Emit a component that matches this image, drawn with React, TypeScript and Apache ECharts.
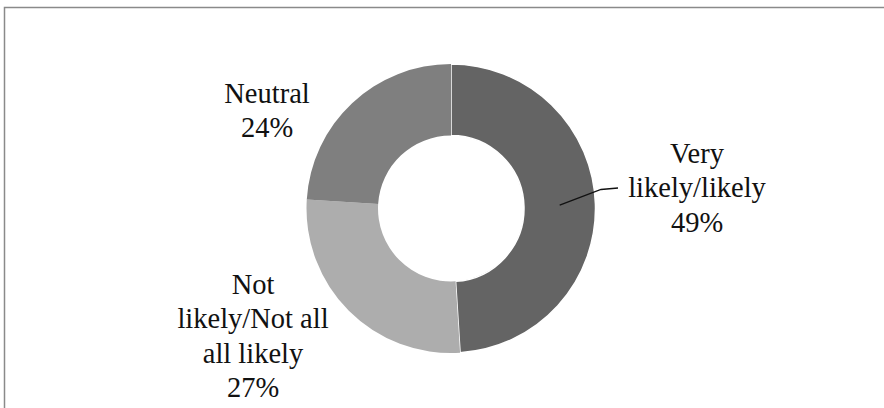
import React, { useEffect, useRef } from "react";
import * as echarts from "echarts";

const categories = ["Very\nlikely/likely", "Not\nlikely/Not all\nall likely", "Neutral"];
const values = [49, 27, 24];
const colors = ["#646464", "#adadad", "#7f7f7f"];
const labelCenters = [
  [697, 187.5],
  [253, 336],
  [267, 110.5],
];
const FONT = "Liberation Serif";

export default function App() {
  const ref = useRef<HTMLDivElement>(null);
  useEffect(() => {
    if (!ref.current) return;
    document.body.style.margin = "0";
    const chart = echarts.init(ref.current, null, { renderer: "svg" });
    const cx = 451;
    const cy = 208.5;
    const r0 = 73;
    const r1 = 144.5;
    const total = values.reduce((a, b) => a + b, 0);
    const midDeg = 90 - (values[0] / 2 / total) * 360;
    const rm = (r0 + r1) / 2;
    const sx = cx + rm * Math.cos((midDeg * Math.PI) / 180);
    const sy = cy - rm * Math.sin((midDeg * Math.PI) / 180);
    const ex = 618;
    const ey = 188;
    chart.setOption({
      animation: false,
      backgroundColor: "#ffffff",
      graphic: [
        {
          type: "polyline",
          shape: { points: [[4.5, 600], [4.5, 7.5], [1200, 7.5]] },
          style: { fill: "none", stroke: "#8a8a8a", lineWidth: 1.5 },
          z: 0,
        },
        {
          type: "polyline",
          shape: { points: [[sx, sy], [ex - 17, ey + 1.5], [ex, ey]] },
          style: { fill: "none", stroke: "#111111", lineWidth: 1.3 },
          z: 100,
        },
      ],
      series: [
        {
          type: "pie",
          center: [cx, cy],
          radius: [r0, r1],
          startAngle: 90,
          clockwise: true,
          avoidLabelOverlap: false,
          data: categories.map((name, i) => ({
            name,
            value: values[i],
            itemStyle: {
              color: colors[i],
              borderColor: "#ffffff",
              borderWidth: i === 0 ? 1.5 : 0,
            },
          })),
          label: {
            show: true,
            position: "outside",
            formatter: (p: any) => `${p.name}\n${p.value}%`,
            fontFamily: FONT,
            fontSize: 28.5,
            lineHeight: 34.5,
            color: "#111111",
            align: "center",
          },
          labelLine: { show: false },
          labelLayout: (params: any) => {
            const [lx, ly] = labelCenters[params.dataIndex];
            return { x: lx, y: ly, align: "center", verticalAlign: "middle" };
          },
          emphasis: { disabled: true },
        },
      ],
    });
    return () => chart.dispose();
  }, []);
  return (
    <div
      ref={ref}
      style={{ position: "absolute", left: 0, top: 0, width: 884, height: 408 }}
    />
  );
}
